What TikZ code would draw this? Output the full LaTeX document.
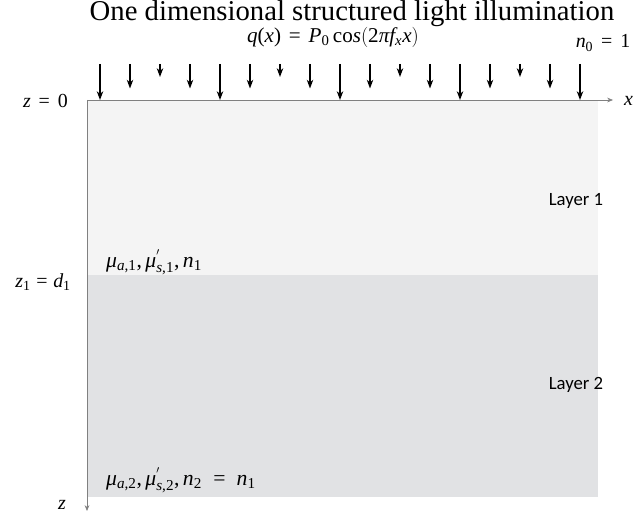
\documentclass[tikz,border=0pt]{standalone}
\usepackage{fontspec}
\setmainfont{Liberation Serif}
\newfontfamily\layerfont{Carlito}
% Times-like letters in math
\DeclareSymbolFont{tletters}{TU}{\rmdefault}{m}{it}
\DeclareSymbolFont{tupright}{TU}{\rmdefault}{m}{n}
\AtBeginDocument{%
	\Umathcode`q=0 \symtletters `q
	\Umathcode`x=0 \symtletters `x
	\Umathcode`z=0 \symtletters `z
	\Umathcode`d=0 \symtletters `d
	\Umathcode`n=0 \symtletters `n
	\Umathcode`a=0 \symtletters `a
	\Umathcode`s=0 \symtletters `s
	\Umathcode`f=0 \symtletters `f
	\Umathcode`P=0 \symtletters `P
	\Umathcode`0=0 \symtupright `0
	\Umathcode`1=0 \symtupright `1
	\Umathcode`2=0 \symtupright `2
	\Umathcode`(=4 \symtupright `(
	\Umathcode`)=5 \symtupright `)
	\Umathcode`,=6 \symtupright `,
	\Umathcode`==3 \symtupright `=
	\Umathchardef\mu=0 \symtletters "03BC
	\Umathchardef\pi=0 \symtletters "03C0
	\thickmuskip=7mu plus 2mu
}
\newcommand{\wideq}{\mskip10mu{=}\mskip10mu}
\usetikzlibrary{calc}
\usetikzlibrary{arrows.meta}
\definecolor{layerone}{HTML}{F4F4F4}
\definecolor{layertwo}{HTML}{E1E2E4}
\definecolor{axisgray}{HTML}{808080}
\tikzset{axis line/.style={axisgray, line width=0.6pt, -{Stealth[length=5pt,width=4pt]}}}
\tikzset{beam/.style={black, line width=1.2pt, -{Stealth[length=7.5pt,width=5.5pt]}}}
\tikzset{layer name/.style={font=\layerfont\fontsize{16}{18}\selectfont}}
\tikzset{plain label/.style={font=\fontsize{17}{19}\selectfont, inner sep=0pt}}

\begin{document}
\begin{tikzpicture}[x=0.03cm, y=-0.03cm]
		\useasboundingbox (0,0) rectangle (644,513);
		% Layers
		\fill[layerone] (87,100) rectangle (598,275);
		\fill[layertwo] (87,275) rectangle (598,497);
		\node[layer name] (lay1) at (576,201) {Layer 1};
		\node[layer name] (lay2) at (576,385) {Layer 2};

		% Axes
		\coordinate (orig) at (87,100);
		\coordinate (xend) at (613,100);
		\coordinate (zend) at (87,511);
		\draw[axis line] (orig) -- (xend);
		\draw[axis line] (orig) -- (zend);
		\node[plain label, anchor=west] (xlab) at (624,101) {$x$};
		\node[plain label, anchor=east] (zlab) at (66,505) {$z$};
		\node[plain label, anchor=east] (z0) at (68,101) {$z=0$};
		\node[plain label, anchor=east] (z1) at (71,282) {$z_1\mskip5mu{=}\mskip5mu d_1$};

		% Optical properties
		\node[plain label, anchor=west, font=\fontsize{18.5}{20}\selectfont] (mu1) at (106,262) {$\mu_{a,1},\mu^{'}_{s,1},n_1$};
		\node[plain label, anchor=west, font=\fontsize{18.5}{20}\selectfont] (mu2) at (106,480) {$\mu_{a,2},\mu^{'}_{s,2},n_2\wideq n_1$};

		% Illumination
		\node[font=\fontsize{24.5}{28}\selectfont, inner sep=0pt] (title) at (352,14) {One dimensional structured light illumination};
		\node[plain label, font=\fontsize{18}{20}\selectfont] (pattern) at (333,37) {$q(x)=P_0\cos\bigl(2\pi f_x x\bigr)$};
		\node[plain label] (n0) at (603,43) {$n_0=1$};
		\foreach \i in {0,...,16}{
			\coordinate (top\i) at ({100+30*\i},64);
			\coordinate (tip\i) at ({100+30*\i},{88.5+11.5*cos(90*\i)});
			\draw[beam] (top\i) -- (tip\i);
		}
	\end{tikzpicture}
\end{document}
